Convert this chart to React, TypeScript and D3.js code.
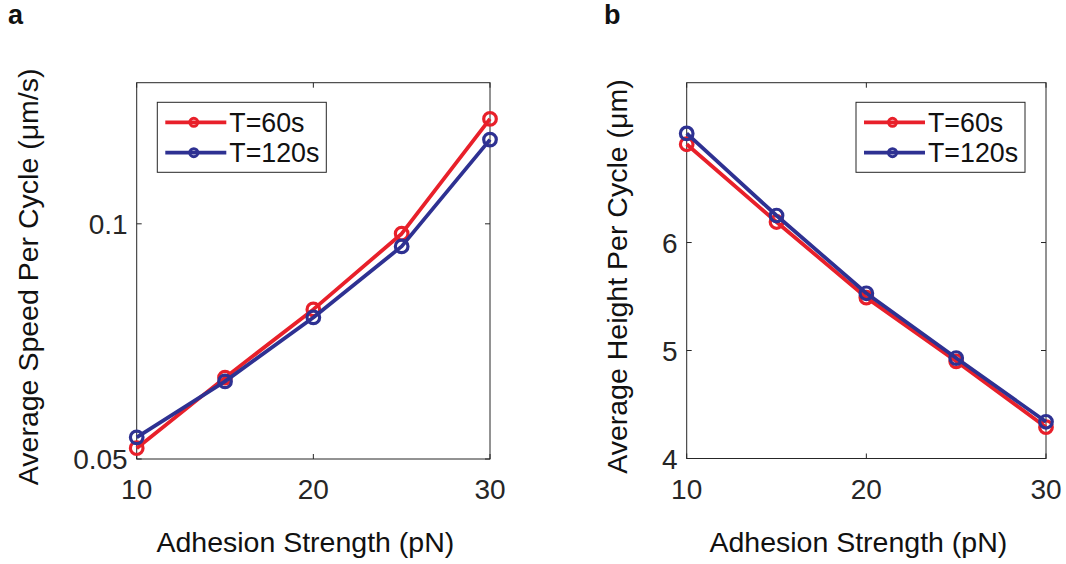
import React from "react";
import * as d3 from "d3";

const adhesion = [10, 15, 20, 25, 30];
const speed60 = [0.0523, 0.0673, 0.0818, 0.0979, 0.1223];
const speed120 = [0.0546, 0.0665, 0.0801, 0.0952, 0.1179];
const height60 = [6.91, 6.19, 5.49, 4.9, 4.29];
const height120 = [7.01, 6.25, 5.53, 4.93, 4.34];
const xTicks = [10, 20, 30];
const speedTicks = [0.05, 0.1];
const heightTicks = [4, 5, 6];
const seriesNames = ["T=60s", "T=120s"];

const RED = "#E8202A";
const BLUE = "#2E3192";
const AX = "#262626";
const FONT = "'Liberation Sans', Arial, Helvetica, sans-serif";

type PanelProps = {
  left: number;
  right: number;
  top: number;
  bottom: number;
  yDomain: [number, number];
  yTicks: number[];
  yFmt: (v: number) => string;
  s1: number[];
  s2: number[];
  yLabel: string;
  yLabelX: number;
  legendX: number;
  panelLabel: string;
  panelLabelX: number;
};

function Panel(p: PanelProps) {
  const x = d3.scaleLinear().domain([10, 30]).range([p.left, p.right]);
  const y = d3.scaleLinear().domain(p.yDomain).range([p.bottom, p.top]);
  const line = d3
    .line<number>()
    .x((_, i) => x(adhesion[i]))
    .y((d) => y(d));
  const series = [
    { vals: p.s1, color: RED },
    { vals: p.s2, color: BLUE },
  ];
  const tl = 5;
  const cx = (p.left + p.right) / 2;
  const cy = (p.top + p.bottom) / 2;
  const lgTop = 102.3;
  const lgW = 169;
  const lgH = 70;
  return (
    <g>
      <text x={p.panelLabelX} y={24} fontFamily={FONT} fontWeight="bold" fontSize={27} fill="#111">
        {p.panelLabel}
      </text>
      <rect x={p.left} y={p.top} width={p.right - p.left} height={p.bottom - p.top} fill="white" stroke={AX} strokeWidth={1} />
      {xTicks.map((t) => (
        <g key={"xt" + t}>
          <line x1={x(t)} x2={x(t)} y1={p.bottom} y2={p.bottom - tl} stroke={AX} />
          <line x1={x(t)} x2={x(t)} y1={p.top} y2={p.top + tl} stroke={AX} />
          <text x={x(t)} y={499} textAnchor="middle" fontFamily={FONT} fontSize={28} fill={AX}>
            {t}
          </text>
        </g>
      ))}
      {p.yTicks.map((t) => (
        <g key={"yt" + t}>
          <line x1={p.left} x2={p.left + tl} y1={y(t)} y2={y(t)} stroke={AX} />
          <line x1={p.right} x2={p.right - tl} y1={y(t)} y2={y(t)} stroke={AX} />
          <text x={p.left - 9} y={y(t)} dy="0.36em" textAnchor="end" fontFamily={FONT} fontSize={28} fill={AX}>
            {p.yFmt(t)}
          </text>
        </g>
      ))}
      <text x={cx - 8} y={552} textAnchor="middle" fontFamily={FONT} fontSize={28.5} fill="#111">
        Adhesion Strength (pN)
      </text>
      <text
        transform={`translate(${p.yLabelX},${cy + 6}) rotate(-90)`}
        textAnchor="middle"
        fontFamily={FONT}
        fontSize={28.5}
        fill="#111"
      >
        {p.yLabel}
      </text>
      {series.map((s, si) => (
        <g key={"s" + si}>
          <path d={line(s.vals) || ""} fill="none" stroke={s.color} strokeWidth={3.8} strokeLinejoin="round" />
          {s.vals.map((v, i) => (
            <circle key={i} cx={x(adhesion[i])} cy={y(v)} r={6.3} fill="none" stroke={s.color} strokeWidth={3.2} />
          ))}
        </g>
      ))}
      <rect x={p.legendX} y={lgTop} width={lgW} height={lgH} fill="white" stroke={AX} strokeWidth={1} />
      {series.map((s, si) => {
        const ly = lgTop + 20 + si * 30.4;
        return (
          <g key={"lg" + si}>
            <line x1={p.legendX + 8} x2={p.legendX + 69} y1={ly} y2={ly} stroke={s.color} strokeWidth={3.8} />
            <circle cx={p.legendX + 36.5} cy={ly} r={4} fill="none" stroke={s.color} strokeWidth={3} />
            <text x={p.legendX + 72} y={ly} dy="0.36em" fontFamily={FONT} fontSize={26.8} fill="#111">
              {seriesNames[si]}
            </text>
          </g>
        );
      })}
    </g>
  );
}

export default function App() {
  return (
    <svg width={1066} height={564} style={{ position: "absolute", left: 0, top: 0, background: "white" }}>
      <rect width={1066} height={564} fill="white" />
      <Panel
        left={136.7}
        right={490}
        top={82.7}
        bottom={459}
        yDomain={[0.05, 0.13]}
        yTicks={speedTicks}
        yFmt={(v) => String(v)}
        s1={speed60}
        s2={speed120}
        yLabel="Average Speed Per Cycle (μm/s)"
        yLabelX={38}
        legendX={157.3}
        panelLabel="a"
        panelLabelX={8}
      />
      <Panel
        left={686.7}
        right={1046}
        top={82.7}
        bottom={458.5}
        yDomain={[4, 7.48]}
        yTicks={heightTicks}
        yFmt={(v) => String(v)}
        s1={height60}
        s2={height120}
        yLabel="Average Height Per Cycle (μm)"
        yLabelX={627}
        legendX={856}
        panelLabel="b"
        panelLabelX={604}
      />
    </svg>
  );
}
